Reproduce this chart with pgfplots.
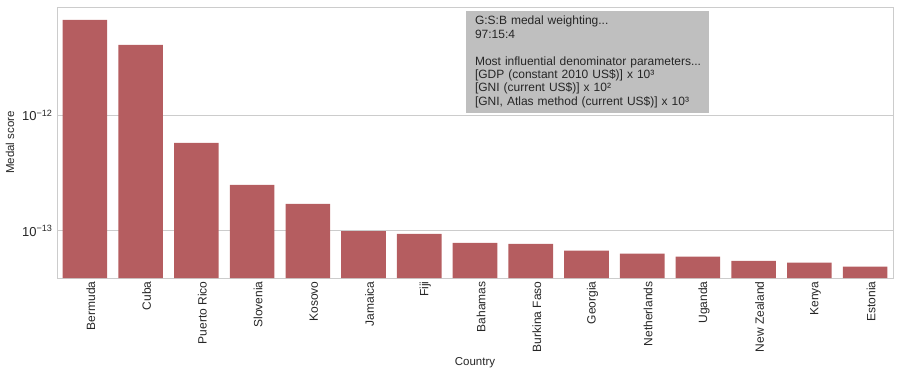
\documentclass[border=0pt]{standalone}
\usepackage{fontspec}
\setmainfont{Liberation Sans}
\usepackage{pgfplots}
\pgfplotsset{compat=1.18}
\definecolor{barc}{HTML}{B55D60}
\definecolor{gridc}{HTML}{CCCCCC}
\definecolor{txt}{HTML}{262626}
\definecolor{boxc}{HTML}{BFBFBF}
\begin{document}
\begin{tikzpicture}
\path[use as bounding box] (-57pt,-96pt) rectangle (844pt,278pt);
\begin{axis}[
 at={(0,0)}, anchor=south west,
 scale only axis, width=836pt, height=271pt,
 ymode=log, log origin=infty,
 ymin=3.9e-14, ymax=8.63e-12,
 xmin=-0.5, xmax=14.5,
 xtick={0,...,14},
 xticklabels={Bermuda,Cuba,Puerto Rico,Slovenia,Kosovo,Jamaica,Fiji,Bahamas,Burkina Faso,Georgia,Netherlands,Uganda,New Zealand,Kenya,Estonia},
 x tick label style={rotate=90, anchor=east, font=\fontsize{12}{14}\selectfont, text=txt, yshift=-6pt},
 ytick={1e-13,1e-12},
 yticklabels={10\textsuperscript{−13},10\textsuperscript{−12}},
 y tick label style={font=\fontsize{13}{15}\selectfont, text=txt, xshift=-1pt},
 major tick length=0pt, minor tick length=0pt,
 axis line style={gridc, line width=1pt},
 ymajorgrids, grid style={gridc, line width=0.9pt},
 xlabel={Country}, ylabel={Medal score},
 xlabel style={at={(rel axis cs:0.5,0)}, anchor=center, yshift=-85pt, font=\fontsize{11.5}{13}\selectfont, text=txt},
 ylabel style={at={(rel axis cs:0,0.5)}, anchor=center, yshift=47pt, font=\fontsize{11.5}{13}\selectfont, text=txt},
 clip=false,
]
\addplot[ybar, bar width=0.8, fill=barc, draw=none] coordinates {
(0,6.67e-12) (1,4.05e-12) (2,5.76e-13) (3,2.50e-13) (4,1.71e-13)
(5,9.94e-14) (6,9.42e-14) (7,7.87e-14) (8,7.72e-14) (9,6.72e-14)
(10,6.33e-14) (11,5.96e-14) (12,5.50e-14) (13,5.29e-14) (14,4.89e-14)};
\node[fill=boxc, anchor=north west, align=left, text width=225pt, inner xsep=9pt, inner ysep=5pt,
      font=\fontsize{12}{13.4}\selectfont, text=txt] at (rel axis cs:0.489,0.985)
 {G:S:B medal weighting...\\97:15:4\\[13.4pt]\mbox{Most influential denominator parameters...}\\
 {[}GDP (constant 2010 US\$)] x 10³\\{[}GNI (current US\$)] x 10²\\\mbox{[GNI, Atlas method (current US\$)] x 10³}};
\end{axis}
\end{tikzpicture}
\end{document}
